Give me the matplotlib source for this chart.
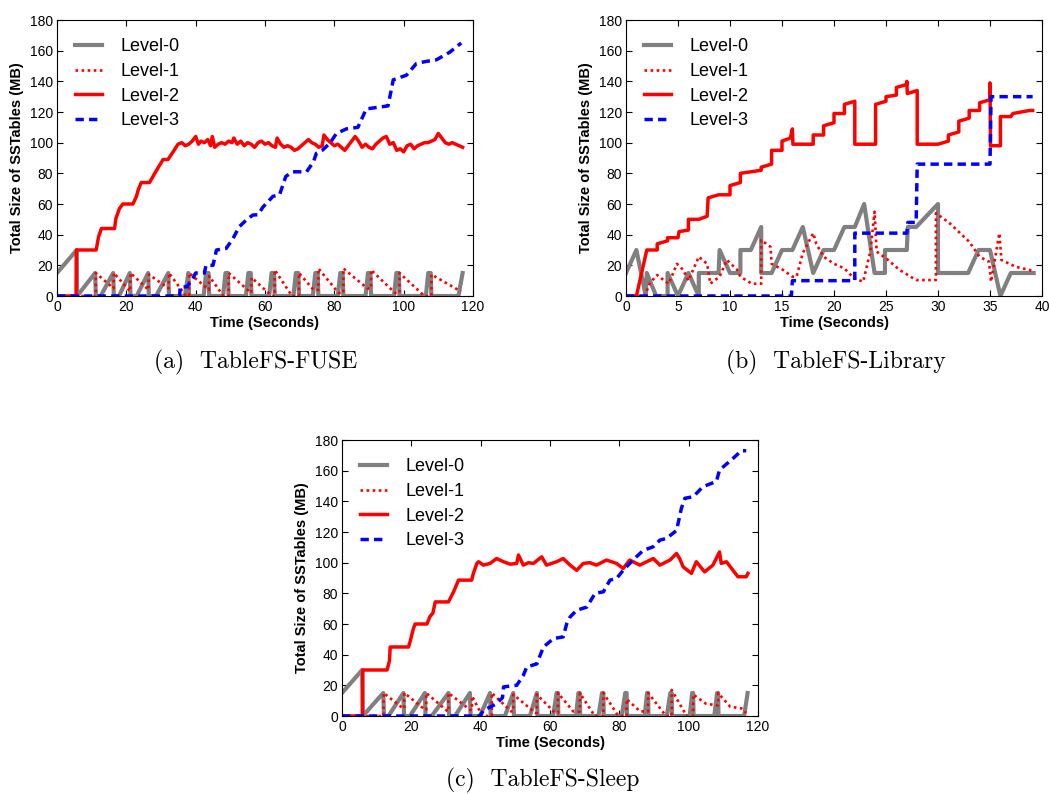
import matplotlib
matplotlib.use("Agg")
import matplotlib.pyplot as plt

# ---- (a) TableFS-FUSE ----
fuse_l0_t = [0, 5.7, 5.8, 11.0, 11.2, 12.6, 16.2, 16.4, 17.9, 21.0, 21.2, 23.0, 26.3, 26.5, 28.6, 32.1, 32.3, 36.9, 37.9, 38.1,
             42.3, 43.0, 43.7, 43.9, 47.9, 48.6, 49.3, 49.5, 54.5, 55.2, 55.9, 56.1, 61.2, 61.9, 62.6, 62.8,
             68.2, 68.9, 69.6, 69.8, 73.8, 74.5, 75.2, 75.4, 81.0, 81.7, 82.4, 82.6, 89.0, 89.7, 90.4, 90.6,
             97.2, 97.9, 98.6, 98.8, 106.4, 107.1, 107.8, 108.0, 115.8, 117.0]
fuse_l0 = [15, 30, 0, 15, 0, 0, 15, 0, 0, 15, 0, 0, 15, 0, 0, 15, 0, 0, 15, 0,
           0, 15, 15, 0, 0, 15, 15, 0, 0, 15, 15, 0, 0, 15, 15, 0,
           0, 15, 15, 0, 0, 15, 15, 0, 0, 15, 15, 0, 0, 15, 15, 0,
           0, 15, 15, 0, 0, 15, 15, 0, 0, 15]

fuse_l1_t = [0, 11.2, 11.2, 16.3, 16.4, 21.1, 21.2, 26.4, 26.5, 32.2, 32.3, 37.2, 38.1, 38.1, 43.8, 43.9, 48.0, 49.5, 49.5, 56.0,
             56.1, 62.0, 62.8, 62.8, 67.8, 69.8, 69.8, 74.0, 75.4, 75.4, 81.2, 82.6, 82.6, 89.5, 90.6, 90.6, 97.5, 98.8, 98.8, 106.0,
             108.0, 108.0, 116.5]
fuse_l1 = [0, 0, 15, 5, 15, 3, 15, 4, 14, 5, 15, 0, 0, 15, 4, 13, 0, 0, 15, 2,
           12, 0, 0, 17, 0, 0, 15, 4, 4, 18, 2, 2, 18, 5, 5, 17, 2, 2, 15, 0,
           0, 14, 3]

fuse_l2_t = [0, 5.5, 5.6, 11.3, 12.0, 12.8, 16.6, 17.0, 18.0, 19.0, 21.9, 22.9, 23.4, 24.3, 26.7, 28.2, 29.0, 30.6, 32.0, 33.5,
             34.9, 36, 37, 38, 39, 40, 40.8, 41.5, 42.5, 43.5, 44.3, 44.8, 45.5, 46.5, 47.5, 48.5, 49.5, 50.5, 51, 52,
             53, 54, 55, 56, 57, 58, 59, 60, 61, 62, 63, 63.5, 64.5, 65.5, 66.5, 67.5, 68.5, 69.5, 70.5, 71.5,
             72.5, 73.5, 74.5, 75.5, 76.5, 77, 78, 79, 80, 81, 82, 83, 84, 85, 86, 87, 88, 89, 90, 91,
             92, 93, 94, 95, 96, 97, 98, 99, 100, 101, 102, 103, 104, 105, 106, 107, 108, 109, 110, 111,
             112, 113, 114, 115, 116, 117]
fuse_l2 = [0, 0, 30, 30, 38.7, 44, 44, 50.6, 57, 60, 60, 64.8, 69, 74, 74, 80, 83, 89, 89, 94,
           99, 100, 98, 99, 101, 104, 99, 101, 100, 102, 98, 104, 97, 99, 100, 99, 101, 100, 103, 99,
           101, 98, 100, 99, 97, 100, 101, 99, 100, 98, 97, 103, 99, 97, 98, 97, 95, 96, 98, 100,
           102, 100, 99, 97, 98, 105, 102, 100, 98, 99, 97, 95, 98, 101, 104, 101, 97, 99, 97, 96,
           99, 101, 103, 104, 99, 100, 95, 96, 94, 98, 99, 96, 98, 99, 100, 100, 101, 102, 106, 103,
           100, 99, 100, 99, 98, 97]

fuse_l3_t = [0, 35.4, 35.5, 37.5, 39.2, 40, 42.5, 43, 45, 46, 48.8, 50.8, 52.5, 54.6, 56.5, 58, 59.4, 62.3, 64.2, 66,
             68, 72, 74, 74.8, 76.5, 78.7, 80.6, 83.5, 86.8, 89.2, 94, 95.5, 97, 100.8, 103.7, 106.5, 109.4, 113.3, 116.6]
fuse_l3 = [0, 0, 6, 6, 11.5, 15, 15, 20, 20, 30, 31, 37.6, 45, 49.6, 52.8, 53, 58, 65, 66, 78,
           81, 81, 87.6, 93, 95, 99.6, 106, 109, 110, 122, 123.5, 124, 141, 144, 151.7, 153, 154, 159, 165]

# ---- (b) TableFS-Library ----
lib_l0_t = [0, 1, 1.9, 2.0, 2.9, 4.0, 4.0, 5.0, 6.0, 7.0, 7.0, 8.9, 9.0, 10.0, 11.0, 11.0, 12.0, 13.0, 13.0, 14.0,
            15.0, 16.0, 17.0, 18.0, 19.0, 20.0, 21.0, 22.0, 22.9, 23.9, 24.9, 24.9, 27.0, 27.1, 27.9, 30.0, 30.0, 32.9, 33.9, 35.0,
            36.0, 37.0, 39.2]
lib_l0 = [15, 30, 0, 15, 0, 0, 15, 0, 15, 0, 15, 15, 30, 15, 15, 30, 30, 45, 15, 15,
          30, 30, 45, 15, 30, 30, 45, 45, 60, 15, 15, 30, 30, 45, 45, 60, 15, 15, 30, 30,
          0, 15, 15]

lib_l1_t = [0, 1.8, 2.3, 3.0, 3.4, 4.1, 4.9, 5.5, 6.0, 7.0, 7.8, 8.1, 9.0, 9.7, 10.7, 11.0, 12.1, 13.0, 13.0, 13.9,
            14.0, 15.1, 16.0, 16.4, 17.0, 18.0, 18.3, 19.0, 20.0, 21.0, 21.9, 22.8, 23.5, 23.9, 24.1, 25.2, 26.3, 27.9, 29.8, 29.8,
            31.1, 33.0, 34.0, 34.9, 35.1, 35.9, 36.1, 37.5, 38.8, 39.1]
lib_l1 = [0, 0, 8.5, 13.7, 11.5, 8, 21, 17, 10, 25.6, 21, 8, 12.6, 23.5, 17, 12.6, 8, 8, 36.5, 32,
          21, 17, 12.6, 12.6, 28, 41, 34, 25.6, 21, 18, 11.7, 9.3, 29, 55, 29, 23.5, 17, 10.4, 10.4, 54,
          47.6, 35.4, 25.6, 22.4, 9.3, 41, 23.5, 19, 17, 16]

lib_l2_t = [0, 1.0, 2.0, 3.0, 3.0, 4.0, 4.0, 5.0, 5.1, 6.0, 6.0, 7.0, 7.8, 7.9, 8.9, 10.0, 10.0, 11.0, 11.0, 12.0,
            13.0, 13.0, 14.0, 14.0, 15.0, 15.0, 15.8, 16.0, 16.05, 18.0, 18.0, 19.0, 19.0, 20.0, 20.0, 21.0, 21.0, 22.0, 22.0, 24.0,
            24.0, 25.0, 25.0, 26.0, 26.0, 27.0, 27.0, 27.05, 28.0, 28.0, 30.0, 31.0, 31.0, 32.0, 32.0, 33.0, 33.0, 34.0, 34.0, 35.0,
            35.0, 35.05, 36.0, 36.0, 37.0, 37.2, 38.0, 38.8, 39.1]
lib_l2 = [0, 0, 30, 30, 34, 36, 38, 38, 42, 43, 50, 50, 52, 64, 66, 66, 72, 74, 80, 81,
          82, 84, 86, 95, 95, 101, 103, 109, 99, 99, 105, 105, 111, 113, 119, 119, 125, 127, 99, 99,
          125, 127, 130, 131, 136, 138, 140, 132, 134, 99, 99, 101, 105, 107, 114, 116, 121, 121, 126, 128,
          139, 98, 98, 117, 117, 119, 120, 121, 121]

lib_l3_t = [0, 15.9, 16, 22, 22, 27, 27.1, 27.9, 28, 35, 35.1, 39.1]
lib_l3 = [0, 0, 10, 10, 41, 41, 48, 48, 86, 86, 130, 130]

# ---- (c) TableFS-Sleep ----
sleep_l0_t = [0, 5.8, 6.0, 11.9, 12.1, 13.4, 17.7, 17.9, 19.6, 23.9, 24.1, 25.9, 30.7, 30.9, 32.6, 36.9, 37.1, 39.8, 42.7, 42.9,
              47.0, 49.4, 49.6, 54.2, 56.2, 56.4, 60.9, 61.9, 62.3, 62.4, 67.5, 68.2, 68.6, 68.7, 74.0, 75.0, 75.4, 75.5,
              80.7, 81.7, 82.1, 82.2, 87.3, 88.0, 88.3, 88.4, 93.7, 94.7, 95.1, 95.2, 100.3, 101.0, 101.3, 101.4,
              107.4, 108.2, 108.5, 108.6, 116.0, 117.0]
sleep_l0 = [15, 30, 0, 15, 0, 0, 15, 0, 0, 15, 0, 0, 15, 0, 0, 15, 0, 0, 15, 0,
            0, 15, 0, 0, 15, 0, 0, 15, 15, 0, 0, 15, 15, 0, 0, 15, 15, 0,
            0, 15, 15, 0, 0, 15, 15, 0, 0, 15, 15, 0, 0, 15, 15, 0,
            0, 15, 15, 0, 0, 15]

sleep_l1_t = [0, 12.0, 12.0, 17.6, 18.0, 18.0, 24.0, 24.3, 24.3, 30.5, 30.7, 30.7, 37.0, 37.5, 37.5, 40.5, 43.2, 43.2, 48.8, 49.4,
              49.4, 55.8, 56.2, 56.2, 61.5, 62.3, 62.3, 66.7, 68.6, 68.6, 72.9, 75.4, 75.4, 79.7, 82.1, 82.1, 86.0, 88.3, 88.3, 93.5,
              95.1, 95.1, 99.4, 101.3, 101.3, 105.0, 108.0, 108.5, 108.5, 112.0, 115.2, 116.6]
sleep_l1 = [0, 0, 15, 5, 5, 15, 4, 4, 15, 3, 3, 15, 4, 4, 13, 0, 0, 15, 3, 3,
            14, 2, 2, 14, 2, 2, 15, 3, 3, 15, 0, 0, 15, 0, 0, 11, 3, 3, 15, 0,
            0, 17, 0, 0, 14, 8, 7, 7, 15, 6, 5, 2]

sleep_l2_t = [0, 5.9, 6.0, 13.0, 13.7, 13.9, 19.2, 19.7, 20.6, 21.1, 24.5, 25.4, 26.2, 26.9, 30.7, 32.2, 33.6, 37.4, 37.9, 38.9,
              39.4, 40.8, 42.7, 44.6, 46.6, 48.5, 50.4, 50.9, 52.3, 53.8, 55.2, 57.6, 59, 61.9, 63.8, 65.8, 67.7, 69.6, 71.5, 73.4,
              76.3, 79.2, 81.1, 83, 85.9, 89.8, 91.7, 94.6, 96.5, 97.4, 98.4, 100.8, 102.2, 104.6, 107, 108.9, 109.4, 110.9, 112.8, 114.2,
              116.6, 117.1]
sleep_l2 = [0, 0, 30, 30, 36, 45, 45, 49, 57, 60, 60, 65, 67, 74.4, 74.4, 81, 88.6, 88.6, 93, 99.5,
            100.6, 98.4, 99.5, 102.7, 100.6, 99, 99.5, 105, 98.4, 100, 99.5, 103.8, 98.4, 100.6, 102.7, 98.4, 95, 99.5, 100, 98.4,
            101.7, 99.5, 96.2, 101.7, 98.4, 102.7, 98.4, 101.7, 106, 102.7, 97.3, 93, 100.6, 94, 98.4, 107, 99.5, 100.6, 95, 90.8,
            90.8, 93]

sleep_l3_t = [0, 39.8, 40.8, 44.6, 46.3, 46.6, 50.4, 52.3, 53.3, 56.2, 58.1, 61, 63.8, 64.8, 65.8, 67.7, 70.6, 73, 75.4, 77.3,
              79.2, 81.1, 83, 84.9, 86.9, 89.8, 91.7, 93.6, 96.5, 97.9, 98.9, 101.3, 104.1, 108, 108.9, 112.8, 115.2, 116.6]
sleep_l3 = [0, 0, 3.7, 8, 12, 19, 20, 26.5, 32, 34, 45, 50.5, 51.6, 60, 64.6, 69, 71, 80, 81, 88.6,
            89.7, 95, 99.5, 103.8, 108, 110.4, 114.7, 115.8, 121, 135.4, 142, 143, 149.5, 153, 160.4, 168, 173, 173]

levels = ["Level-0", "Level-1", "Level-2", "Level-3"]
captions = ["(a)  TableFS-FUSE", "(b)  TableFS-Library", "(c)  TableFS-Sleep"]

plt.rcParams["font.family"] = ["Liberation Sans", "DejaVu Sans"]

fig = plt.figure(figsize=(10.49, 7.94), dpi=100)
ax_a = fig.add_axes([57 / 1049, 1 - 296 / 794, 416 / 1049, 276 / 794])
ax_b = fig.add_axes([626 / 1049, 1 - 296 / 794, 416 / 1049, 276 / 794])
ax_c = fig.add_axes([342 / 1049, 1 - 716 / 794, 416 / 1049, 276 / 794])

panels = [
    (ax_a, [(fuse_l0_t, fuse_l0), (fuse_l1_t, fuse_l1), (fuse_l2_t, fuse_l2), (fuse_l3_t, fuse_l3)], 120, 20),
    (ax_b, [(lib_l0_t, lib_l0), (lib_l1_t, lib_l1), (lib_l2_t, lib_l2), (lib_l3_t, lib_l3)], 40, 5),
    (ax_c, [(sleep_l0_t, sleep_l0), (sleep_l1_t, sleep_l1), (sleep_l2_t, sleep_l2), (sleep_l3_t, sleep_l3)], 120, 20),
]

for ax, series, xmax, xstep in panels:
    (t0, v0), (t1, v1), (t2, v2), (t3, v3) = series
    ax.plot(t0, v0, color="#808080", lw=3.0, label=levels[0])
    ax.plot(t1, v1, color="red", lw=1.9, ls=(0, (1, 1.3)), label=levels[1])
    ax.plot(t2, v2, color="red", lw=2.5, label=levels[2])
    ax.plot(t3, v3, color="blue", lw=2.5, ls=(0, (2.4, 1.5)), label=levels[3])
    ax.set_xlim(0, xmax)
    ax.set_ylim(0, 180)
    ax.set_xticks(range(0, xmax + 1, xstep))
    ax.set_yticks(range(0, 181, 20))
    ax.tick_params(direction="in", top=True, right=True, labelsize=10, length=4, pad=3)
    ax.set_xlabel("Time (Seconds)", fontsize=10.5, fontweight="bold", labelpad=1)
    ax.set_ylabel("Total Size of SSTables (MB)", fontsize=10.5, fontweight="bold", labelpad=4)
    ax.legend(loc="upper left", frameon=False, fontsize=13, handlelength=1.5,
              handletextpad=1.0, labelspacing=0.43, borderaxespad=0.6)

cap_font = ["cmr10", "DejaVu Serif"]
fig.text(256 / 1049, 1 - 362 / 794, captions[0], ha="center", va="center", fontsize=17, family=cap_font)
fig.text(836 / 1049, 1 - 362 / 794, captions[1], ha="center", va="center", fontsize=17, family=cap_font)
fig.text(543 / 1049, 1 - 780 / 794, captions[2], ha="center", va="center", fontsize=17, family=cap_font)

fig.savefig("out.png", dpi=100)
